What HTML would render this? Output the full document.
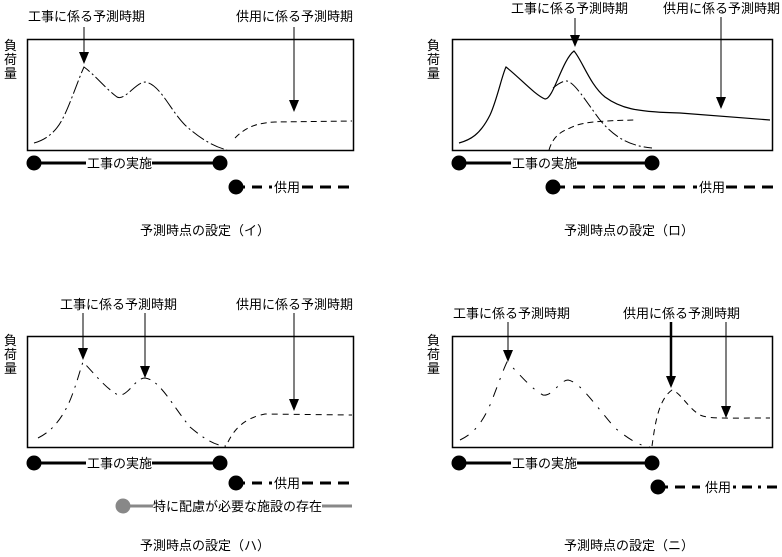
<!DOCTYPE html>
<html><head><meta charset="utf-8"><style>
body{margin:0;background:#fff}
svg text{font-family:"Liberation Sans","Noto Sans CJK JP",sans-serif;font-size:13px;fill:#000}
</style></head><body>
<svg width="782" height="552" xmlns="http://www.w3.org/2000/svg">
<g fill="none" stroke="#000">
<!-- Panel 1 -->
<rect x="27.5" y="39.5" width="326" height="111" stroke-width="1.5"/>
<path d="M34,143 C45,140 55,133 62,120 C70,105 78,80 84,67 C95,75 105,88 117,97 C125,101 135,83 145,82 C160,84 170,110 185,125 C198,137 212,146 227,150" stroke-width="1" stroke-dasharray="14 3 2 3"/>
<path d="M235,138 C245,128 255,123 275,122 L352,121" stroke-width="1" stroke-dasharray="6 4"/>
<line x1="84" y1="27" x2="84" y2="52"/>
<line x1="294" y1="27" x2="294" y2="100"/>
<!-- Panel 2 -->
<rect x="452.5" y="39.5" width="320" height="111" stroke-width="1.5"/>
<path d="M459,143 C470,140 480,135 490,115 C497,100 502,75 506,67 C520,78 535,95 545,99 C553,100 562,60 574,51 C582,60 590,85 605,97 C620,108 635,112 680,113 L770,120" stroke-width="1.2"/>
<path d="M553,88 C558,84 562,81 567,81 C575,83 585,100 600,120 C615,138 630,146 652,148" stroke-width="1" stroke-dasharray="12 3 2 3"/>
<path d="M549,150 C552,140 557,133 570,128 C580,123 590,121 635,120" stroke-width="1" stroke-dasharray="6 4"/>
<line x1="575" y1="18" x2="575" y2="35"/>
<line x1="721" y1="17" x2="721" y2="97"/>
<!-- Panel 3 -->
<rect x="27.5" y="336.5" width="326" height="111" stroke-width="1.5"/>
<path d="M38,438 C48,433 58,425 68,405 C75,390 80,370 83,362 C93,372 105,388 118,395 C128,397 135,378 145,378 C160,380 172,405 190,427 C203,438 215,446 226,446" stroke-width="1" stroke-dasharray="10 6 2 6"/>
<path d="M228,442 C235,428 245,418 265,414 L352,415" stroke-width="1" stroke-dasharray="6 5"/>
<line x1="83" y1="313" x2="83" y2="348"/>
<line x1="145" y1="313" x2="145" y2="366"/>
<line x1="294" y1="313" x2="294" y2="399"/>
<!-- Panel 4 -->
<rect x="452.5" y="336.5" width="320" height="111" stroke-width="1.5"/>
<path d="M460,440 C470,435 480,428 490,405 C497,388 503,370 507,362 C518,372 530,388 543,395 C552,397 560,380 568,380 C580,382 595,405 615,428 C630,440 640,446 650,447" stroke-width="1" stroke-dasharray="10 8 2 8"/>
<path d="M652,446 C655,425 658,400 672,390 C680,392 688,408 700,415 C710,419 720,418 770,418" stroke-width="1" stroke-dasharray="6 5"/>
<line x1="508" y1="322" x2="508" y2="350"/>
<line x1="671" y1="322" x2="671" y2="376" stroke-width="2.5"/>
<line x1="726" y1="322" x2="726" y2="406"/>
<!-- timelines -->
<g stroke-width="3">
<line x1="34" y1="163" x2="86" y2="163"/><line x1="152" y1="163" x2="220" y2="163"/>
<line x1="235" y1="187" x2="272" y2="187" stroke-dasharray="10 7"/><line x1="302" y1="187" x2="352" y2="187" stroke-dasharray="11 7"/>
<line x1="459" y1="163" x2="511" y2="163"/><line x1="577" y1="163" x2="652" y2="163"/>
<line x1="553" y1="187" x2="697" y2="187" stroke-dasharray="12 8"/><line x1="726" y1="187" x2="778" y2="187" stroke-dasharray="11 7"/>
<line x1="34" y1="463" x2="86" y2="463"/><line x1="152" y1="463" x2="220" y2="463"/>
<line x1="235" y1="483" x2="272" y2="483" stroke-dasharray="10 7"/><line x1="302" y1="483" x2="352" y2="483" stroke-dasharray="11 7"/>
<line x1="123" y1="506" x2="153" y2="506" stroke="#888"/><line x1="322" y1="506" x2="352" y2="506" stroke="#888"/>
<line x1="459" y1="463" x2="511" y2="463"/><line x1="577" y1="463" x2="652" y2="463"/>
<line x1="658" y1="487" x2="700" y2="487" stroke-dasharray="10 7"/><line x1="733" y1="487" x2="778" y2="487" stroke-dasharray="3 6 10 6"/>
</g>
</g>
<g fill="#000">
<path d="M79,52 L89,52 L84,64 Z"/>
<path d="M289,100 L299,100 L294,112 Z"/>
<path d="M570,35 L580,35 L575,47 Z"/>
<path d="M716,97 L726,97 L721,109 Z"/>
<path d="M78,348 L88,348 L83,360 Z"/>
<path d="M140,366 L150,366 L145,378 Z"/>
<path d="M289,399 L299,399 L294,411 Z"/>
<path d="M503,350 L513,350 L508,362 Z"/>
<path d="M666,376 L676,376 L671,388 Z"/>
<path d="M721,406 L731,406 L726,418 Z"/>
<circle cx="34" cy="163" r="7.5"/><circle cx="220" cy="163" r="7.5"/><circle cx="236" cy="187" r="7.5"/>
<circle cx="459" cy="163" r="7.5"/><circle cx="652" cy="163" r="7.5"/><circle cx="553" cy="187" r="7.5"/>
<circle cx="34" cy="463" r="7.5"/><circle cx="220" cy="463" r="7.5"/><circle cx="236" cy="483" r="7.5"/>
<circle cx="459" cy="463" r="7.5"/><circle cx="652" cy="463" r="7.5"/><circle cx="658" cy="487" r="7.5"/>
<circle cx="123" cy="506" r="7.5" fill="#888"/>
</g>
<g>
<text x="28" y="21">工事に係る予測時期</text><text x="236" y="21">供用に係る予測時期</text>
<text x="4" y="50">負</text><text x="4" y="64">荷</text><text x="4" y="78">量</text>
<text x="87" y="168">工事の実施</text><text x="274" y="192">供用</text>
<text x="140" y="235">予測時点の設定（イ）</text>

<text x="511" y="13">工事に係る予測時期</text><text x="663" y="13">供用に係る予測時期</text>
<text x="427" y="50">負</text><text x="427" y="64">荷</text><text x="427" y="78">量</text>
<text x="512" y="168">工事の実施</text><text x="699" y="192">供用</text>
<text x="564" y="235">予測時点の設定（ロ）</text>

<text x="60" y="309">工事に係る予測時期</text><text x="236" y="309">供用に係る予測時期</text>
<text x="4" y="345">負</text><text x="4" y="359">荷</text><text x="4" y="373">量</text>
<text x="87" y="468">工事の実施</text><text x="274" y="488">供用</text>
<text x="153" y="511">特に配慮が必要な施設の存在</text>
<text x="140" y="550">予測時点の設定（ハ）</text>

<text x="453" y="318">工事に係る予測時期</text><text x="623" y="318">供用に係る予測時期</text>
<text x="427" y="345">負</text><text x="427" y="359">荷</text><text x="427" y="373">量</text>
<text x="512" y="468">工事の実施</text><text x="705" y="492">供用</text>
<text x="564" y="550">予測時点の設定（ニ）</text>
</g>
</svg>
</body></html>
